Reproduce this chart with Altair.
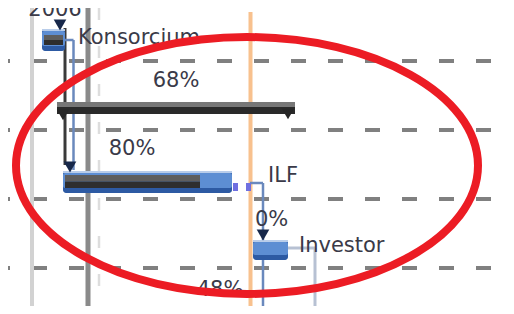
import altair as alt
import pandas as pd

# ---- values (pixel frame of the picture) ----
GRID_Y = [61, 130, 199, 268]          # dashed row separators
GRID_X = [8, 506]

# vertical guide lines
LIGHT_X = [32]
DARK_X = [88]
FAINT_X = [99]
TODAY_X = [250.5]

# task bars: name, start, finish, top, bottom
TASK_NAMES = ["Konsorcium", "ILF", "Investor"]
TASK_START = [42, 63, 253]
TASK_END = [65, 232, 288]
TASK_TOP = [29, 171, 240]
TASK_BOTTOM = [51, 193, 260]

# progress (completed part) of task bars
PROG_START = [44, 65]
PROG_END = [63, 200]
PROG_TOP = [35, 175]
PROG_BOTTOM = [45, 188]

# summary bar (68 %)
SUM_START = [57]
SUM_END = [295]
SUM_TOP = [102]
SUM_BOTTOM = [114]

# link lines: (x1, y1) -> (x2, y2)
LINK_X1 = [65, 73.5, 250, 263, 288, 315]
LINK_Y1 = [40, 40, 183, 183, 248, 248]
LINK_X2 = [73.5, 73.5, 263, 263, 315, 315]
LINK_Y2 = [40, 170, 183, 306, 248, 306]
SUMLINK_X = [65]
SUMLINK_Y1 = [28]
SUMLINK_Y2 = [165]

# slack markers after ILF
SLACK_X1 = [233, 246]
SLACK_X2 = [238, 251]
SLACK_Y1 = [183, 183]
SLACK_Y2 = [191, 191]

# arrow heads / summary caps
ARROW_X = [60, 70, 263]
ARROW_Y = [25, 167, 235]
CAP_X = [63, 288]
CAP_Y = [115, 114]

# labels
LEFT_TEXT = ["Konsorcium", "ILF", "0%", "Investor"]
LEFT_X = [78, 268, 255, 299]
LEFT_Y = [38, 176, 220, 246]
CENTER_TEXT = ["68%", "80%", "48%"]
CENTER_X = [176, 132, 220]
CENTER_Y = [81, 149, 290]
TOP_TEXT = ["2006"]
TOP_X = [55]
TOP_Y = [16]

# red hand-drawn ellipse
ELLIPSE_X = [247]
ELLIPSE_Y = [165.5]

xs = alt.Scale(domain=[8, 506], nice=False, zero=False)
ys = alt.Scale(domain=[8, 306], nice=False, zero=False, reverse=True)


def X(f="x"):
    return alt.X(f"{f}:Q", scale=xs, axis=None)


def Y(f="y"):
    return alt.Y(f"{f}:Q", scale=ys, axis=None)


base = alt.Chart()

# dashed grid
grid = alt.Chart(pd.DataFrame({"y": GRID_Y, "x": GRID_X[0], "x2": GRID_X[1]})).mark_rule(
    color="#808080", strokeWidth=4, strokeDash=[15, 22], strokeDashOffset=13
).encode(x=X(), x2="x2:Q", y=Y())


def vline(xv, color, width, y1=8, y2=306, dash=None):
    kw = dict(color=color, strokeWidth=width)
    if dash:
        kw["strokeDash"] = dash
    return alt.Chart(pd.DataFrame({"x": xv, "y": y1, "y2": y2})).mark_rule(**kw).encode(
        x=X(), y=Y(), y2="y2:Q"
    )


light = vline(LIGHT_X, "#d2d2d2", 4)
dark = vline(DARK_X, "#8a8a8a", 5)
faint = vline(FAINT_X, "#dddddd", 2.5, dash=[12, 26])
today = vline(TODAY_X, "#f8c18e", 4, y1=12)

links_df = pd.DataFrame({"x": LINK_X1, "y": LINK_Y1, "x2": LINK_X2, "y2": LINK_Y2})
links_a = alt.Chart(links_df.iloc[:4]).mark_rule(color="#6a89bd", strokeWidth=2.5).encode(
    x=X(), y=Y(), x2="x2:Q", y2="y2:Q"
)
links_b = alt.Chart(links_df.iloc[4:]).mark_rule(color="#b7c1d3", strokeWidth=3).encode(
    x=X(), y=Y(), x2="x2:Q", y2="y2:Q"
)
sumlink = vline(SUMLINK_X, "#3a3a3a", 3, y1=SUMLINK_Y1[0], y2=SUMLINK_Y2[0])

tasks_df = pd.DataFrame(
    {"name": TASK_NAMES, "x": TASK_START, "x2": TASK_END, "y": TASK_TOP, "y2": TASK_BOTTOM}
)
tasks_df["ym"] = [b - 5 for b in TASK_BOTTOM]
tasks_df["yh"] = [t + 2 for t in TASK_TOP]
task_outer = alt.Chart(tasks_df).mark_rect(color="#2d5aa3", cornerRadius=3).encode(
    x=X(), x2="x2:Q", y=Y(), y2="y2:Q"
)
task_mid = alt.Chart(tasks_df).mark_rect(color="#5d8ed3", cornerRadius=2).encode(
    x=X(), x2="x2:Q", y=Y("yh"), y2="ym:Q"
)
task_hi = alt.Chart(tasks_df).mark_rect(color="#b9cdea").encode(
    x=X(), x2="x2:Q", y=Y(), y2="yh:Q"
)

prog_df = pd.DataFrame({"x": PROG_START, "x2": PROG_END, "y": PROG_TOP, "y2": PROG_BOTTOM})
prog_df["ym"] = [(t + b) / 2 for t, b in zip(PROG_TOP, PROG_BOTTOM)]
prog_top = alt.Chart(prog_df).mark_rect(color="#5e5e5e").encode(
    x=X(), x2="x2:Q", y=Y(), y2="ym:Q"
)
prog_bot = alt.Chart(prog_df).mark_rect(color="#2e2e2e").encode(
    x=X(), x2="x2:Q", y=Y("ym"), y2="y2:Q"
)

sum_df = pd.DataFrame({"x": SUM_START, "x2": SUM_END, "y": SUM_TOP, "y2": SUM_BOTTOM})
sum_df["ym"] = [t + 5 for t in SUM_TOP]
sum_top = alt.Chart(sum_df).mark_rect(color="#777777").encode(
    x=X(), x2="x2:Q", y=Y(), y2="ym:Q"
)
sum_bot = alt.Chart(sum_df).mark_rect(color="#2a2a2a").encode(
    x=X(), x2="x2:Q", y=Y("ym"), y2="y2:Q"
)

slack = alt.Chart(
    pd.DataFrame({"x": SLACK_X1, "x2": SLACK_X2, "y": SLACK_Y1, "y2": SLACK_Y2})
).mark_rect(color="#6f6fe0").encode(x=X(), x2="x2:Q", y=Y(), y2="y2:Q")

arrows = alt.Chart(pd.DataFrame({"x": ARROW_X, "y": ARROW_Y})).mark_point(
    shape="triangle-down", filled=True, size=160, color="#17284a", opacity=1
).encode(x=X(), y=Y())
caps = alt.Chart(pd.DataFrame({"x": CAP_X, "y": CAP_Y})).mark_point(
    shape="triangle-down", filled=True, size=150, color="#262626", opacity=1
).encode(x=X(), y=Y())

font = "DejaVu Sans"
txt_left = alt.Chart(pd.DataFrame({"t": LEFT_TEXT, "x": LEFT_X, "y": LEFT_Y})).mark_text(
    align="left", baseline="middle", font=font, fontSize=21, color="#3a3a48"
).encode(x=X(), y=Y(), text="t:N")
txt_center = alt.Chart(pd.DataFrame({"t": CENTER_TEXT, "x": CENTER_X, "y": CENTER_Y})).mark_text(
    align="center", baseline="middle", font=font, fontSize=21, color="#3a3a48"
).encode(x=X(), y=Y(), text="t:N")
txt_top = alt.Chart(pd.DataFrame({"t": TOP_TEXT, "x": TOP_X, "y": TOP_Y})).mark_text(
    align="center", baseline="alphabetic", font=font, fontSize=21, color="#3a3a48"
).encode(x=X(), y=Y(), text="t:N")

ELLIPSE_PATH = (
    "M-1,0 C-1,-0.307 -0.552,-0.556 0,-0.556 C0.552,-0.556 1,-0.307 1,0 "
    "C1,0.307 0.552,0.556 0,0.556 C-0.552,0.556 -1,0.307 -1,0 Z"
)
ellipse = alt.Chart(pd.DataFrame({"x": ELLIPSE_X, "y": ELLIPSE_Y})).mark_point(
    shape=ELLIPSE_PATH, filled=False, size=462 * 462, color="#ec1c24",
    strokeWidth=8, opacity=1
).encode(x=X(), y=Y())

chart = alt.layer(
    grid, light, faint, dark, today,
    sumlink, links_a, links_b,
    sum_top, sum_bot, caps,
    task_outer, task_mid, task_hi, prog_top, prog_bot, slack, arrows,
    txt_left, txt_center, txt_top,
    ellipse,
).properties(
    width=498, height=298, autosize=alt.AutoSizeParams(type="none"), padding=0
).configure_view(stroke=None)

chart.save("out.html", embed_options={"renderer": "svg", "actions": False})
